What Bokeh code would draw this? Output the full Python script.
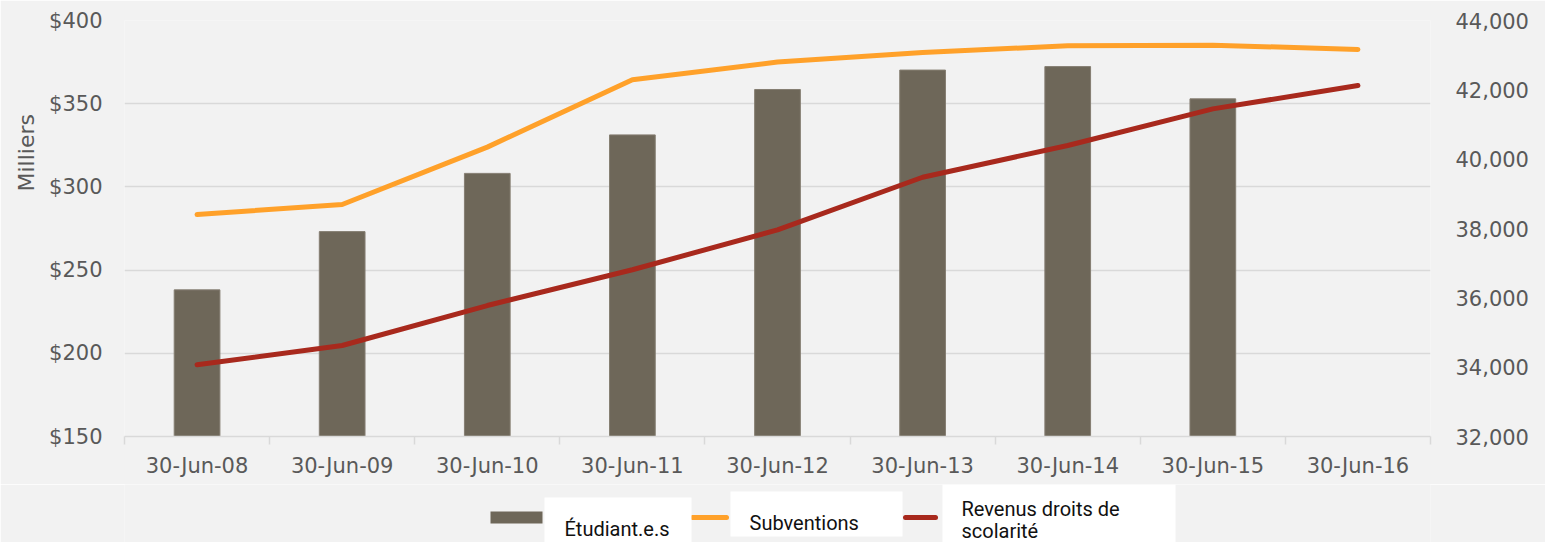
import numpy as np
from bokeh.plotting import figure
from bokeh.layouts import column
from bokeh.models import Range1d, LinearAxis, FixedTicker, NumeralTickFormatter
from bokeh.core.properties import value
from bokeh.embed import file_html
from bokeh.resources import INLINE

# ---------------- data ----------------
dates = ["30-Jun-08", "30-Jun-09", "30-Jun-10", "30-Jun-11", "30-Jun-12",
         "30-Jun-13", "30-Jun-14", "30-Jun-15", "30-Jun-16"]
etudiants = [36230, 37910, 39590, 40700, 42010, 42570, 42670, 41740, np.nan]
subventions = [283.4, 289.4, 323.9, 364.4, 375.0, 380.8, 384.8, 385.2, 382.6]
revenus = [193.1, 204.7, 228.7, 250.2, 274.2, 305.8, 324.9, 346.9, 360.9]
left_ticks = [150, 200, 250, 300, 350, 400]
right_ticks = [32000, 34000, 36000, 38000, 40000, 42000, 44000]
series_names = ["Étudiant.e.s", "Subventions", "Revenus droits de\nscolarité"]
left_title = "Milliers"

# ---------------- style ----------------
BG = "#f2f2f2"
GRID = "#d9d9d9"
TXT = "#595959"
BROWN = "#6e6759"
ORANGE = "#ffa12a"
RED = "#a8291d"
FONT = "DejaVu Sans"

W = 1545
B_LEFT, B_RIGHT = 124, 115

n = len(dates)
xs = [i + 0.5 for i in range(n)]

p = figure(width=W, height=484, x_range=Range1d(0, n),
           y_range=Range1d(left_ticks[0], left_ticks[-1]),
           output_backend="svg", toolbar_location=None,
           title=left_title, title_location="left",
           min_border_left=B_LEFT, min_border_right=B_RIGHT,
           min_border_top=20, min_border_bottom=48,
           background_fill_color=BG, border_fill_color=BG,
           outline_line_color=None)
p.extra_y_ranges = {"etu": Range1d(right_ticks[0], right_ticks[-1])}

# axis title "Milliers" (left title, placed above the axis centre like the original)
p.title.text_font = FONT
p.title.text_font_size = "22px"
p.title.text_font_style = "normal"
p.title.text_color = TXT
p.title.align = "left"
p.title.offset = 245
p.title.standoff = 16

p.vbar(x=xs, top=np.array(etudiants, dtype=float), bottom=right_ticks[0],
       width=0.315, y_range_name="etu", fill_color=BROWN, line_color="#857e72",
       line_width=1)
p.line(xs, subventions, line_color=ORANGE, line_width=5,
       line_cap="round", line_join="round")
p.line(xs, revenus, line_color=RED, line_width=5,
       line_cap="round", line_join="round")

# grids
p.xgrid.visible = False
p.ygrid.grid_line_color = GRID
p.ygrid.grid_line_width = 1.5

# left axis
ya = p.yaxis[0]
ya.ticker = FixedTicker(ticks=left_ticks)
ya.formatter = NumeralTickFormatter(format="$0")
ya.major_label_text_font = FONT
ya.major_label_text_font_size = "21px"
ya.major_label_text_color = TXT
ya.major_label_standoff = 22
ya.major_tick_out = 0
ya.major_tick_in = 0
ya.major_tick_line_color = None
ya.minor_tick_line_color = None
ya.axis_line_color = None

# right axis
ra = LinearAxis(y_range_name="etu", ticker=FixedTicker(ticks=right_ticks),
                formatter=NumeralTickFormatter(format="0,0"))
ra.major_label_text_font = FONT
ra.major_label_text_font_size = "21px"
ra.major_label_text_color = TXT
ra.major_label_standoff = 25
ra.major_tick_out = 0
ra.major_tick_in = 0
ra.major_tick_line_color = None
ra.minor_tick_line_color = None
ra.axis_line_color = None
p.add_layout(ra, "right")

# bottom axis
xa = p.xaxis[0]
xa.ticker = FixedTicker(ticks=xs, minor_ticks=list(range(n + 1)))
xa.major_label_overrides = {x: d for x, d in zip(xs, dates)}
xa.major_label_text_font = FONT
xa.major_label_text_font_size = "21px"
xa.major_label_text_color = TXT
xa.major_label_standoff = 9
xa.major_tick_out = 0
xa.major_tick_in = 0
xa.major_tick_line_color = None
xa.minor_tick_out = 8
xa.minor_tick_in = 0
xa.minor_tick_line_color = GRID
xa.minor_tick_line_width = 1.5
xa.axis_line_color = GRID
xa.axis_line_width = 1.5

# ---------------- legend strip (page-pixel coordinates) ----------------
LG_TOP = 484
LG_H = 542 - LG_TOP
lg = figure(width=W, height=LG_H, x_range=Range1d(B_LEFT, W - B_RIGHT),
            y_range=Range1d(LG_TOP + LG_H, LG_TOP),
            output_backend="svg", toolbar_location=None,
            min_border_left=B_LEFT, min_border_right=B_RIGHT,
            min_border_top=0, min_border_bottom=0,
            background_fill_color=BG, border_fill_color=BG,
            outline_line_color=None)
lg.axis.visible = False
lg.grid.visible = False

# swatches
lg.quad(left=[490], right=[542], top=[511], bottom=[523], fill_color=BROWN, line_color=None)
lg.segment(x0=[692], y0=[517], x1=[726], y1=[517], line_color=ORANGE, line_width=5, line_cap="round")
lg.segment(x0=[905], y0=[517], x1=[935], y1=[517], line_color=RED, line_width=5, line_cap="round")
# white text boxes
lg.quad(left=[544, 730, 942], right=[691, 902, 1175], top=[497, 491, 484], bottom=[560, 536, 560],
        fill_color="#ffffff", line_color=None)
lg.text(x=[564, 749, 961, 961], y=[528, 522, 508, 530],
        text=[series_names[0], series_names[1]] + series_names[2].split("\n"),
        text_font=value("Roboto"), text_font_size="20px", text_color="#111111",
        text_baseline="alphabetic", text_align="left")

layout = column(p, lg, spacing=0)
open("out.html", "w").write(file_html(layout, INLINE))
